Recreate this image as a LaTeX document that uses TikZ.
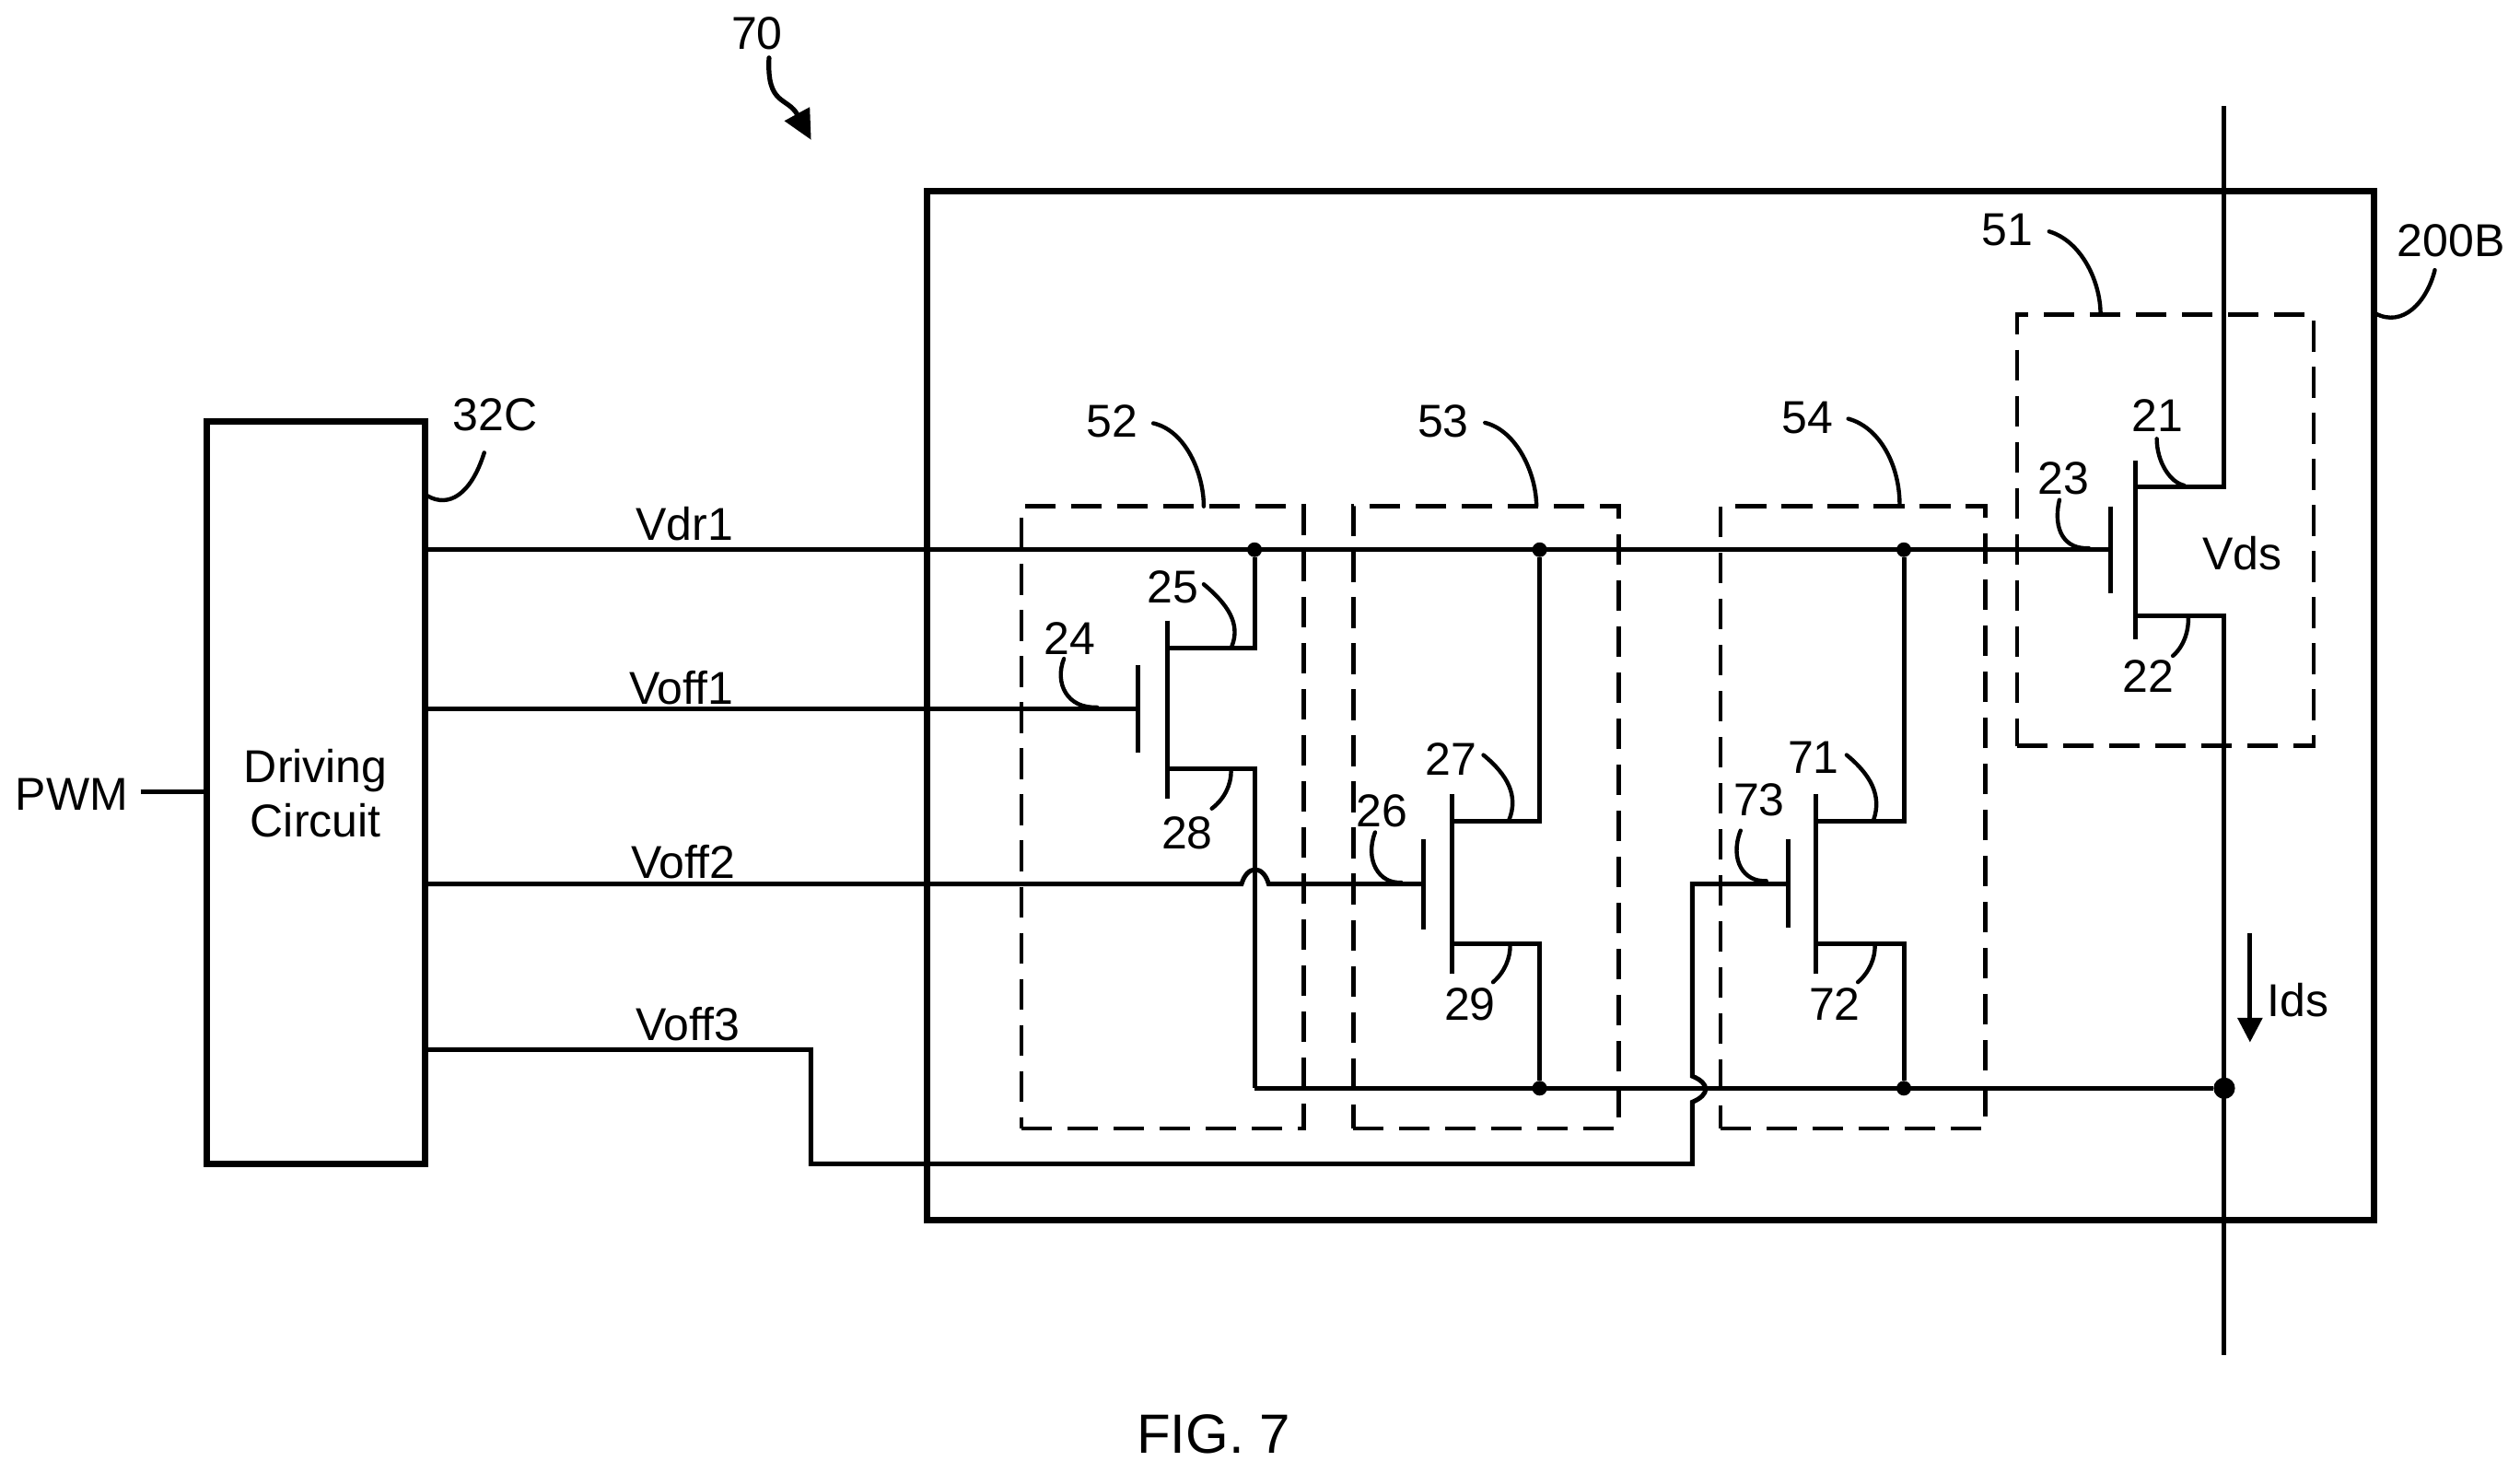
\documentclass[tikz,border=0pt]{standalone}
\usepackage{fontspec}
\setmainfont{Liberation Sans}
\usetikzlibrary{arrows.meta}
\tikzset{
	every node/.style={font=\fontsize{12.5}{14.6}\selectfont, inner sep=0pt, outer sep=0pt},
	wire/.style={line width=1.25pt},
	lead/.style={line width=1.1pt, line cap=round},
	heavybox/.style={draw, line width=1.75pt, align=center},
	dashbox/.style={draw, line width=1.2pt, dash pattern=on 8.3pt off 4.2pt, minimum height=168.8pt},
	jdot/.style={circle, fill=black, minimum size=4pt},
	bigdot/.style={circle, fill=black, minimum size=5.8pt}
}

\begin{document}
\begin{tikzpicture}[x=0.4362pt, y=-0.4362pt]
	\useasboundingbox (0,0) rectangle (1568,916);

	% boxes
	\node [heavybox, minimum width=59.3pt, minimum height=201.5pt] (drv) at (196.4,493.4) {Driving\\Circuit};
	\node [heavybox, minimum width=392.6pt, minimum height=279.2pt] (chip) at (1027,439) {};
	\node [dashbox, minimum width=80.5pt, minimum height=117pt] (d51) at (1347.3,329.9) {};
	\node [dashbox, minimum width=76.5pt] (d52) at (723.3,508.5) {};
	\node [dashbox, minimum width=72pt] (d53) at (924.5,508.5) {};
	\node [dashbox, minimum width=71.8pt] (d54) at (1152.8,508.5) {};

	% junctions
	\node [jdot] (j1) at (780.6,342) {};
	\node [jdot] (j2) at (958,342) {};
	\node [jdot] (j3) at (1184.6,342) {};
	\node [jdot] (j4) at (958,677) {};
	\node [jdot] (j5) at (1184.6,677) {};
	\node [bigdot] (j6) at (1384,677) {};

	% gates
	\coordinate (g1) at (708,441);
	\coordinate (g2) at (885.6,550);
	\coordinate (g3) at (1112.6,550);
	\coordinate (g4) at (1313,342);
	\draw[wire] (g1) +(0,-27) -- +(0,27);
	\draw[wire] (g2) +(0,-28) -- +(0,28);
	\draw[wire] (g3) +(0,-28) -- +(0,27);
	\draw[wire] (g4) +(0,-27) -- +(0,27);

	% channels
	\coordinate (c1) at (726.6,441);
	\coordinate (c2) at (903.7,550);
	\coordinate (c3) at (1130,550);
	\coordinate (c4) at (1328.6,342);
	\draw[wire] (c1) +(0,-55) -- +(0,56);
	\draw[wire] (c2) +(0,-56) -- +(0,56);
	\draw[wire] (c3) +(0,-56) -- +(0,56);
	\draw[wire] (c4) +(0,-55.5) -- +(0,56);

	% drains and sources
	\coordinate (u1) at (726.6,403);
	\coordinate (u2) at (903.7,511);
	\coordinate (u3) at (1130,511);
	\coordinate (u4) at (1328.6,303);
	\coordinate (v1) at (726.6,478);
	\coordinate (v2) at (903.7,587);
	\coordinate (v3) at (1130,587);
	\coordinate (v4) at (1328.6,383);
	\coordinate (top) at (1384,66);
	\coordinate (bot) at (1384,843);
	\coordinate (r1) at (780.6,677);
	\draw[wire] (u1) -| (j1);
	\draw[wire] (u2) -| (j2);
	\draw[wire] (u3) -| (j3);
	\draw[wire] (u4) -| (top);
	\draw[wire] (v1) -| (r1);
	\draw[wire] (v2) -| (j4);
	\draw[wire] (v3) -| (j5);
	\draw[wire] (v4) -| (bot);
	\draw[wire] (r1) -- (j6);

	% driving lines
	\coordinate (p1) at (87.4,492.6);
	\coordinate (h1) at (772.5,550);
	\coordinate (h2) at (789.4,550);
	\coordinate (k1) at (504.5,653);
	\coordinate (k2) at (504.5,724);
	\coordinate (k3) at (1053,724);
	\coordinate (k4) at (1053,685.6);
	\coordinate (k5) at (1053,669.5);
	\coordinate (k6) at (1053,550);
	\draw[wire] (p1) -- (p1 -| drv.west);
	\draw[wire] (g4 -| drv.east) -- (g4);
	\draw[wire] (g1 -| drv.east) -- (g1);
	\draw[wire] (g2 -| drv.east) -- (h1) .. controls (776,538) and (786,538) .. (h2) -- (g2);
	\draw[wire] (k1 -| drv.east) -- (k1) -- (k2) -- (k3) -- (k4) .. controls (1064,681) and (1064,674) .. (k5) -- (k6) -- (g3);

	% current arrow
	\coordinate (i1) at (1400,580.6);
	\coordinate (i2) at (1400,648.5);
	\draw[wire, -{Triangle[length=6.7pt,width=6.6pt]}] (i1) -- (i2);

	% signal names
	\node (pwm) at (44.6,494) {PWM};
	\node (vdr1) at (426,326) {Vdr1};
	\node (voff1) at (424,428) {Voff1};
	\node (voff2) at (425,536) {Voff2};
	\node (voff3) at (428,637) {Voff3};
	\node (vds) at (1395,344) {Vds};
	\node (ids) at (1430,622) {Ids};
	\node [font=\fontsize{15}{17}\selectfont] (fig) at (755,892) {FIG. 7};

	% reference numerals
	\node (n70) at (471,21) {70};
	\coordinate (s70) at (478.5,36);
	\coordinate (e70) at (504.7,87);
	\draw[line width=1.3pt, line cap=round, -{Triangle[length=8pt,width=7.5pt]}] (s70) .. controls (477,66) and (490,60) .. (e70);

	\node (n32C) at (308,258) {32C};
	\coordinate (s32C) at (301.3,281.6);
	\coordinate (e32C) at (266,308.5);
	\draw[lead] (s32C) .. controls (293,308) and (279,316) .. (e32C);

	\node (n200B) at (1525,150) {200B};
	\coordinate (s200B) at (1515,168);
	\coordinate (e200B) at (1478,195);
	\draw[lead] (s200B) .. controls (1510,188) and (1495,204) .. (e200B);

	\node (n51) at (1249,143) {51};
	\coordinate (s51) at (1275,144);
	\coordinate (e51) at (1307,195.6);
	\draw[lead] (s51) .. controls (1295,150) and (1307,175) .. (e51);

	\node (n52) at (692,262) {52};
	\coordinate (s52) at (717.6,263.3);
	\coordinate (e52) at (749,315);
	\draw[lead] (s52) .. controls (738,268) and (749,295) .. (e52);

	\node (n53) at (898,262) {53};
	\coordinate (s53) at (924,263);
	\coordinate (e53) at (956,315);
	\draw[lead] (s53) .. controls (944,268) and (956,295) .. (e53);

	\node (n54) at (1124.6,260) {54};
	\coordinate (s54) at (1150,260.5);
	\coordinate (e54) at (1182,314);
	\draw[lead] (s54) .. controls (1170,266) and (1182,290) .. (e54);

	\node (n21) at (1342.6,258.6) {21};
	\coordinate (s21) at (1342,273);
	\coordinate (e21) at (1359,302);
	\draw[lead] (s21) .. controls (1342,287) and (1350,300) .. (e21);

	\node (n22) at (1336.6,420.8) {22};
	\coordinate (s22) at (1352,408);
	\coordinate (e22) at (1361.6,383.7);
	\draw[lead] (s22) .. controls (1359,402) and (1362,392) .. (e22);

	\node (n23) at (1283.8,297.6) {23};
	\coordinate (s23) at (1281.4,311);
	\coordinate (e23) at (1299.7,341);
	\draw[lead] (s23) .. controls (1277,330) and (1285,342) .. (e23);

	\node (n24) at (665.7,397) {24};
	\coordinate (s24) at (662,409.8);
	\coordinate (e24) at (682.6,440);
	\draw[lead] (s24) .. controls (656,425) and (664,441) .. (e24);

	\node (n25) at (729.7,365) {25};
	\coordinate (s25) at (749,363.5);
	\coordinate (e25) at (766.5,402);
	\draw[lead] (s25) .. controls (764,376) and (772,388) .. (e25);

	\node (n26) at (860,504.4) {26};
	\coordinate (s26) at (855.6,517.8);
	\coordinate (e26) at (871.8,549);
	\draw[lead] (s26) .. controls (849,535) and (858,550) .. (e26);

	\node (n27) at (902.7,472) {27};
	\coordinate (s27) at (923,469.7);
	\coordinate (e27) at (939,510);
	\draw[lead] (s27) .. controls (938,482) and (945,495) .. (e27);

	\node (n28) at (738.7,518.5) {28};
	\coordinate (s28) at (754,503);
	\coordinate (e28) at (766,480);
	\draw[lead] (s28) .. controls (762,497) and (766,488) .. (e28);

	\node (n29) at (914.6,624.6) {29};
	\coordinate (s29) at (929,611);
	\coordinate (e29) at (939.6,587.4);
	\draw[lead] (s29) .. controls (936,605) and (940,596) .. (e29);

	\node (n71) at (1128.4,471.5) {71};
	\coordinate (s71) at (1149,469.7);
	\coordinate (e71) at (1165.8,510);
	\draw[lead] (s71) .. controls (1164,482) and (1171,495) .. (e71);

	\node (n72) at (1141.6,624.6) {72};
	\coordinate (s72) at (1156,611);
	\coordinate (e72) at (1166.6,587.4);
	\draw[lead] (s72) .. controls (1163,605) and (1167,596) .. (e72);

	\node (n73) at (1094.6,497.6) {73};
	\coordinate (s73) at (1083,516.7);
	\coordinate (e73) at (1099,548);
	\draw[lead] (s73) .. controls (1076,535) and (1085,549) .. (e73);
\end{tikzpicture}
\end{document}
